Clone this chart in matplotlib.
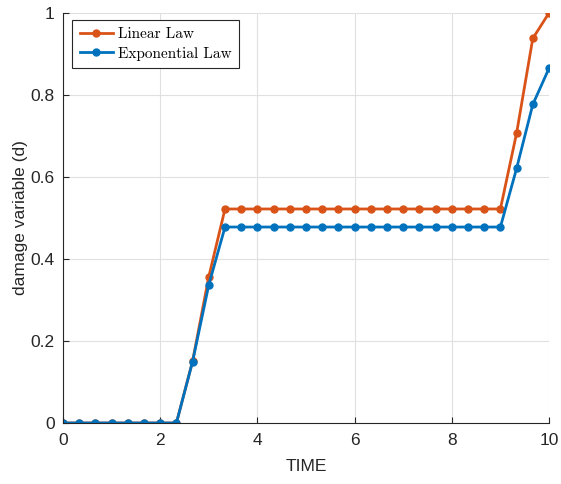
import numpy as np
import matplotlib
matplotlib.use("Agg")
import matplotlib.pyplot as plt

time = [i / 3 for i in range(31)]
linear_law = [0, 0, 0, 0, 0, 0, 0, 0, 0.151, 0.357, 0.522,
              0.522, 0.522, 0.522, 0.522, 0.522, 0.522, 0.522, 0.522, 0.522, 0.522,
              0.522, 0.522, 0.522, 0.522, 0.522, 0.522, 0.522, 0.707, 0.938, 1.0]
exp_law = [0, 0, 0, 0, 0, 0, 0, 0, 0.150, 0.337, 0.478,
           0.478, 0.478, 0.478, 0.478, 0.478, 0.478, 0.478, 0.478, 0.478, 0.478,
           0.478, 0.478, 0.478, 0.478, 0.478, 0.478, 0.478, 0.621, 0.777, 0.865]
xticks = [0, 2, 4, 6, 8, 10]
yticks = [0, 0.2, 0.4, 0.6, 0.8, 1]

plt.rcParams['font.family'] = ['Liberation Sans', 'DejaVu Sans']

fig = plt.figure(figsize=(5.61, 4.84), dpi=100)
ax = fig.add_axes([63/561, 61/484, 486/561, 410/484])

orange = (0.85, 0.325, 0.098)
blue = (0.0, 0.447, 0.741)
dark = (0.15, 0.15, 0.15)
ax.plot(time, linear_law, '-o', color=orange, lw=2, ms=5, label='Linear Law')
ax.plot(time, exp_law, '-o', color=blue, lw=2, ms=5, label='Exponential Law')

ax.set_xlim(0, 10)
ax.set_ylim(0, 1)
ax.set_xticks(xticks)
ax.set_xticklabels([str(t) for t in xticks])
ax.set_yticks(yticks)
ax.set_yticklabels(['0', '0.2', '0.4', '0.6', '0.8', '1'])
ax.grid(True, color=(0.88, 0.88, 0.88), lw=0.8)
ax.set_axisbelow(True)
for s in ['top', 'right']:
    ax.spines[s].set_visible(False)
for s in ['left', 'bottom']:
    ax.spines[s].set_color(dark)
    ax.spines[s].set_linewidth(0.8)
ax.tick_params(direction='in', length=4, colors=dark, labelsize=12.5, labelcolor=dark)
ax.tick_params(axis='x', pad=7)
ax.tick_params(axis='y', pad=6)
ax.set_xlabel('TIME', fontsize=12.5, color=dark, labelpad=8)
ax.set_ylabel('damage variable (d)', fontsize=12.5, color=dark, labelpad=2)

leg = ax.legend(loc='upper left', bbox_to_anchor=(0.0185, 0.983), prop={'family': 'cmr10', 'size': 11},
                frameon=True, fancybox=False, edgecolor=dark, framealpha=1,
                handlelength=2.2, borderpad=0.5, labelspacing=0.35, handletextpad=0.3,
                borderaxespad=0)
leg.get_frame().set_linewidth(0.8)

fig.savefig('out.png', dpi=100)
